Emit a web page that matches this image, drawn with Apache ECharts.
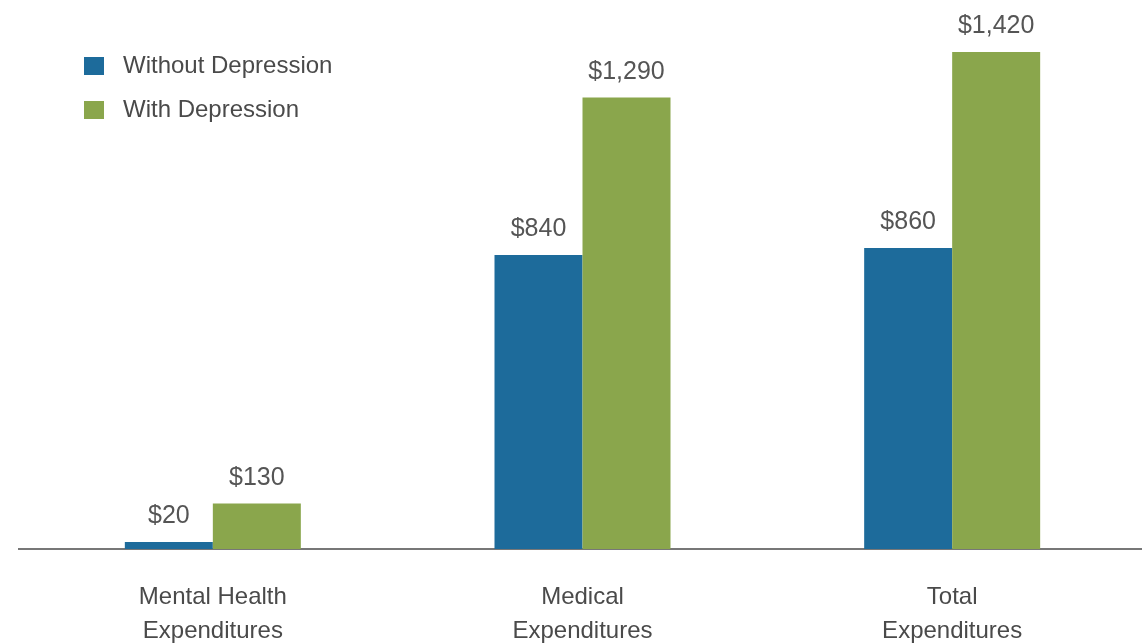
<!DOCTYPE html>
<html>
<head>
<meta charset="utf-8">
<script src="https://cdn.jsdelivr.net/npm/echarts@6/dist/echarts.min.js"></script>
<style>
html,body{margin:0;padding:0;background:#fff;}
#chart{width:1142px;height:643px;}
</style>
</head>
<body>
<div id="chart"></div>
<script>
const categories = ['Mental Health\nExpenditures', 'Medical\nExpenditures', 'Total\nExpenditures'];
const seriesNames = ['Without Depression', 'With Depression'];
const withoutDepression = [20, 840, 860];
const withDepression = [130, 1290, 1420];

const chart = echarts.init(document.getElementById('chart'));
const fontFam = '"Liberation Sans", Arial, sans-serif';
const labelCfg = {
  show: true,
  position: 'top',
  distance: 13,
  fontFamily: fontFam,
  fontSize: 25,
  color: '#555555',
  formatter: p => '$' + p.value.toLocaleString('en-US')
};
chart.setOption({
  animation: false,
  backgroundColor: '#ffffff',
  grid: {left: 28, right: 5, top: 24, bottom: 94, containLabel: false, outerBoundsMode: 'none'},
  legend: {
    orient: 'vertical',
    left: 79,
    top: 49,
    itemWidth: 20,
    itemHeight: 18,
    itemGap: 20,
    icon: 'rect',
    textStyle: {fontFamily: fontFam, fontSize: 24, color: '#4a4a4a', padding: [0, 0, 0, 14]},
    data: seriesNames
  },
  xAxis: {
    type: 'category',
    data: categories,
    axisLine: {show: true, lineStyle: {color: '#777777', width: 2}},
    axisTick: {show: false},
    axisLabel: {fontFamily: fontFam, fontSize: 24, color: '#4a4a4a', lineHeight: 34, margin: 31}
  },
  yAxis: {
    type: 'value',
    min: 0,
    max: 1500,
    show: false,
    splitLine: {show: false}
  },
  graphic: [
    {type: 'line', shape: {x1: 18, y1: 549, x2: 28, y2: 549}, style: {stroke: '#777777', lineWidth: 2}},
    {type: 'line', shape: {x1: 1136, y1: 549, x2: 1142, y2: 549}, style: {stroke: '#777777', lineWidth: 2}}
  ],
  series: [
    {name: seriesNames[0], type: 'bar', data: withoutDepression, barWidth: 88, barGap: '0%',
     itemStyle: {color: '#1d6b9b'}, label: labelCfg},
    {name: seriesNames[1], type: 'bar', data: withDepression, barWidth: 88, barGap: '0%',
     itemStyle: {color: '#8aa64c'}, label: labelCfg}
  ]
});
</script>
</body>
</html>
